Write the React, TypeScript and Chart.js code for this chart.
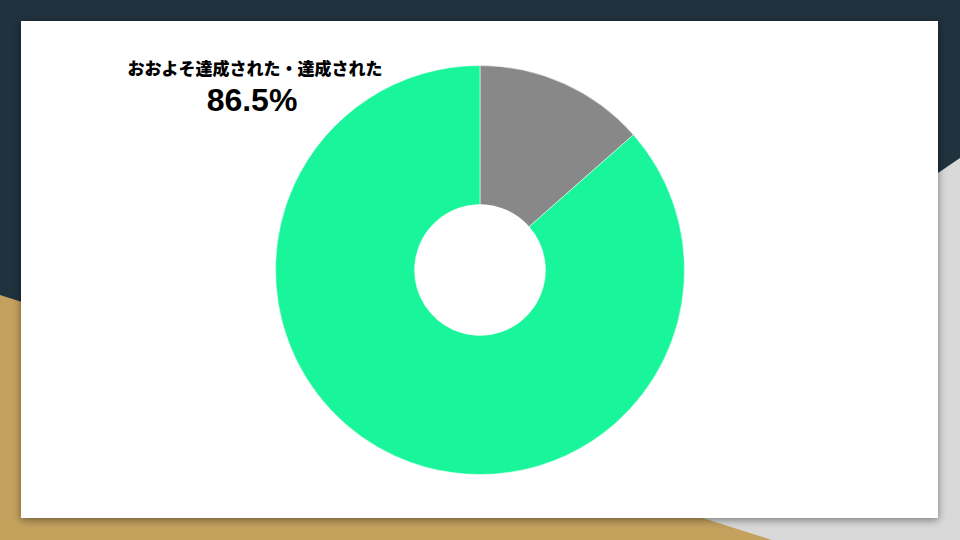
import { useEffect, useRef } from 'react';
import Chart from 'chart.js/auto';

const labels = ['未達成', 'おおよそ達成された・達成された'];
const values = [13.5, 86.5];
const colors = ['#888888', '#19f59a'];
const headline = 'おおよそ達成された・達成された';
const headlineValue = '86.5%';

export default function App() {
  const canvasRef = useRef<HTMLCanvasElement | null>(null);
  const chartRef = useRef<any>(null);

  useEffect(() => {
    document.body.style.margin = '0';
    if (chartRef.current) chartRef.current.destroy();
    if (canvasRef.current) {
      chartRef.current = new Chart(canvasRef.current, {
        type: 'doughnut',
        data: {
          labels,
          datasets: [{
            data: values,
            backgroundColor: colors,
            borderColor: 'rgba(255,255,255,0.5)',
            borderWidth: 1
          }]
        },
        options: {
          animation: false,
          cutout: '32%',
          responsive: true,
          maintainAspectRatio: false,
          layout: { padding: 0 },
          plugins: { legend: { display: false }, tooltip: { enabled: false } }
        }
      });
    }
    return () => {
      if (chartRef.current) chartRef.current.destroy();
      chartRef.current = null;
    };
  }, []);

  return (
    <div style={{ position: 'fixed', left: 0, top: 0, width: 960, height: 540, overflow: 'hidden', background: '#21323f' }}>
      <svg width={960} height={540} style={{ position: 'absolute', left: 0, top: 0 }}>
        <polygon points="960,158 960,540 400,540" fill="#d9d9d9" />
        <polygon points="0,295 772,540 0,540" fill="#c4a25e" />
      </svg>
      <div style={{
        position: 'absolute', left: 21, top: 21, width: 917, height: 497,
        background: '#ffffff', boxShadow: '0 2px 8px rgba(0,0,0,0.45)'
      }}>
        <div style={{
          position: 'absolute', left: 104, top: 36, width: 260, textAlign: 'center',
          fontFamily: '"Noto Sans CJK JP", sans-serif', fontWeight: 900, fontSize: 17,
          color: '#000000', whiteSpace: 'nowrap', lineHeight: '22px'
        }}>{headline}</div>
        <div style={{
          position: 'absolute', left: 131, top: 61, width: 200, textAlign: 'center',
          fontFamily: '"Liberation Sans", Arial, sans-serif', fontWeight: 700, fontSize: 32,
          color: '#000000', lineHeight: '36px'
        }}>{headlineValue}</div>
        <div style={{ position: 'absolute', left: 254, top: 44, width: 410, height: 410 }}>
          <canvas ref={canvasRef}></canvas>
        </div>
      </div>
    </div>
  );
}
